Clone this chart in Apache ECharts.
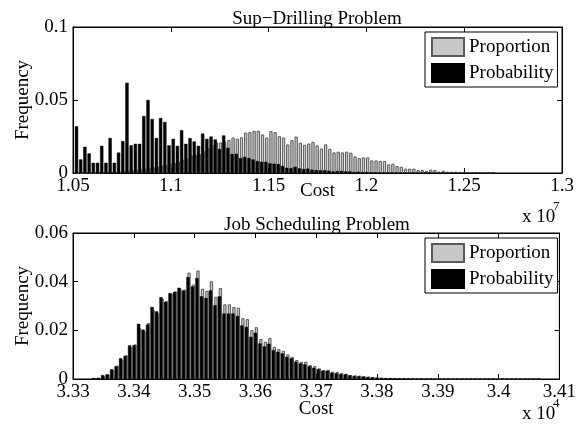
<!DOCTYPE html>
<html><head><meta charset="utf-8">
<script src="https://cdn.jsdelivr.net/npm/echarts@6/dist/echarts.min.js"></script>
<style>html,body{margin:0;padding:0;background:#fff}#c{width:579px;height:433px}</style>
</head><body><div id="c"></div><script>
// ---------- data ----------
const seriesNames = ['Proportion', 'Probability'];
const topTitle = 'Sup\u2212Drilling Problem';
const botTitle = 'Job Scheduling Problem';
const xAxisName = 'Cost';
const yAxisName = 'Frequency';
const topXTicks = [1.05, 1.1, 1.15, 1.2, 1.25, 1.3];
const topYTicks = [0, 0.05, 0.1];
const botXTicks = [3.33, 3.34, 3.35, 3.36, 3.37, 3.38, 3.39, 3.4, 3.41];
const botYTicks = [0, 0.02, 0.04, 0.06];
const topExponent = '7';
const botExponent = '4';

// histogram bins (first bin centre and bin width, in axis units)
const topBinStart = 1.05204, topBinWidth = 0.00215;
const botBinStart = 3.33348, botBinWidth = 0.000739;

const topProportion = [
 0, 0, 0.0001, 0.0002, 0.0002, 0.0003, 0.0004, 0.0005, 0.0006, 0.0008,
 0.001, 0.0012, 0.0015, 0.0018, 0.0022, 0.0026, 0.003, 0.0036, 0.004, 0.0045,
 0.005, 0.0056, 0.0062, 0.007, 0.0078, 0.0093, 0.010, 0.012, 0.0125, 0.013,
 0.015, 0.017, 0.019, 0.021, 0.0209, 0.0215, 0.0227, 0.0243, 0.0234, 0.0245,
 0.0277, 0.028, 0.0289, 0.0289, 0.0264, 0.0243, 0.0287, 0.028, 0.0252, 0.0243,
 0.0196, 0.0225, 0.025, 0.0207, 0.0193, 0.0202, 0.0214, 0.0189, 0.0168, 0.0196,
 0.0166, 0.0141, 0.0146, 0.0141, 0.0146, 0.0139, 0.0114, 0.0102, 0.0107, 0.0107,
 0.0086, 0.0086, 0.0082, 0.0082, 0.0059, 0.0064, 0.0048, 0.0043, 0.003, 0.003,
 0.003, 0.002, 0.002, 0.0014, 0.0023, 0.002, 0.0009, 0.0016, 0.0009, 0.0009,
 0.0009, 0.0007, 0.0007, 0.0005, 0.0004, 0.0005, 0.0003, 0.0004, 0.0003, 0.0004
];
const topProbability = [
 0.032, 0.0093, 0.018, 0.0134, 0.007, 0.007, 0.0186, 0.007, 0.024, 0.007,
 0.014, 0.0218, 0.0618, 0.019, 0.020, 0.020, 0.039, 0.050, 0.037, 0.024,
 0.0377, 0.035, 0.019, 0.0234, 0.0186, 0.0293, 0.020, 0.0239, 0.0216, 0.0186,
 0.027, 0.0234, 0.025, 0.023, 0.0165, 0.0257, 0.0173, 0.013, 0.0132, 0.0102,
 0.011, 0.0102, 0.0093, 0.0082, 0.0077, 0.0077, 0.0066, 0.0064, 0.0061, 0.0048,
 0.0036, 0.0034, 0.0043, 0.0032, 0.0027, 0.003, 0.0023, 0.002, 0.0018, 0.0018,
 0.0016, 0.0011, 0.0014, 0.0014, 0.0011, 0.0011, 0.0007, 0.0009, 0.0007, 0.0007,
 0.0005, 0.0005, 0.0004, 0.0004, 0.0003, 0.0004, 0.0003, 0.0002, 0.0003, 0.0002,
 0.0002, 0.0002, 0.0001, 0.0002, 0.0001, 0.0001, 0.0001, 0.0001, 0.0001, 0.0001,
 0.0001, 0, 0.0001, 0, 0, 0.0001, 0, 0, 0, 0
];
const botProportion = [
 0.0003, 0.0005, 0.0013, 0.0018, 0.0036, 0.0055, 0.0078, 0.0098, 0.013, 0.0142,
 0.021, 0.0195, 0.023, 0.0285, 0.027, 0.033, 0.032, 0.035, 0.036, 0.037,
 0.0368, 0.0437, 0.0388, 0.0446, 0.0371, 0.0363, 0.0402, 0.0338, 0.0374, 0.0307,
 0.0307, 0.0296, 0.0293, 0.025, 0.0246, 0.0201, 0.0213, 0.0164, 0.0153, 0.0169,
 0.0132, 0.0123, 0.0116, 0.0101, 0.0091, 0.0078, 0.0071, 0.0071, 0.0057, 0.0053,
 0.0044, 0.0037, 0.0038, 0.003, 0.0029, 0.0025, 0.0022, 0.0016, 0.0015, 0.0014,
 0.0011, 0.001, 0.0007, 0.0006, 0.0005, 0.0004, 0.0004, 0.0003, 0.0003, 0.0003,
 0.0003, 0.0002, 0.0002, 0.0002, 0.0002, 0.0002, 0.0001, 0.0002, 0.0001, 0.0001,
 0.0001, 0.0001, 0.0001, 0.0001, 0.0001, 0.0001, 0.0001, 0.0001, 0.0001, 0.0001,
 0.0001, 0.0001, 0.0001, 0.0001, 0.0001, 0.0001, 0.0001, 0.0001, 0.0001, 0.0001
];
const botProbability = [
 0.0004, 0.0005, 0.0016, 0.0019, 0.004, 0.0052, 0.0085, 0.0094, 0.0138, 0.0139,
 0.0227, 0.0203, 0.0224, 0.0296, 0.0278, 0.0336, 0.0317, 0.0353, 0.0357, 0.0375,
 0.0363, 0.0419, 0.038, 0.0415, 0.034, 0.0333, 0.0364, 0.0303, 0.034, 0.0269,
 0.0269, 0.0269, 0.0259, 0.022, 0.0214, 0.0173, 0.019, 0.0146, 0.0134, 0.0145,
 0.0119, 0.0112, 0.0105, 0.0091, 0.0085, 0.0071, 0.0064, 0.006, 0.0053, 0.0046,
 0.004, 0.0034, 0.0034, 0.0026, 0.0023, 0.002, 0.0019, 0.0015, 0.0012, 0.0011,
 0.001, 0.0008, 0.0007, 0.0006, 0.0005, 0.0004, 0.0004, 0.0003, 0.0003, 0.0003,
 0.0002, 0.0002, 0.0002, 0.0002, 0.0001, 0.0002, 0.0001, 0.0001, 0.0001, 0.0001,
 0.0001, 0.0001, 0.0001, 0, 0.0001, 0.0001, 0, 0.0001, 0, 0.0001,
 0, 0.0001, 0, 0, 0.0001, 0, 0, 0, 0, 0.0001
];

// ---------- chart ----------
const FONT = '"Liberation Serif", "Times New Roman", serif';
const FS = 19;
const pairs = (vals, start, w) => vals.map((v, i) => [start + i * w, v]);

const grids = [
  { left: 73, top: 27, width: 489, height: 146 },
  { left: 73, top: 233, width: 489, height: 146 }
];

function xAxes(gi, ticks, nameGap) {
  const min = ticks[0], max = ticks[ticks.length - 1], interval = +(ticks[1] - ticks[0]).toFixed(6);
  const base = {
    gridIndex: gi, type: 'value', min: min, max: max, interval: interval,
    axisLine: { show: true, onZero: false, lineStyle: { color: '#000', width: 1 } },
    axisTick: { show: true, inside: true, length: 5, lineStyle: { color: '#000' } },
    splitLine: { show: false }
  };
  return [
    Object.assign({}, base, {
      position: 'bottom',
      axisLabel: { color: '#000', fontFamily: FONT, fontSize: FS, margin: 4 },
      name: xAxisName, nameLocation: 'middle', nameGap: nameGap, nameMoveOverlap: false,
      nameTextStyle: { color: '#000', fontFamily: FONT, fontSize: FS }
    }),
    Object.assign({}, base, { position: 'top', axisLabel: { show: false } })
  ];
}
function yAxes(gi, ticks) {
  const min = ticks[0], max = ticks[ticks.length - 1], interval = +(ticks[1] - ticks[0]).toFixed(6);
  const base = {
    gridIndex: gi, type: 'value', min: min, max: max, interval: interval,
    axisLine: { show: true, onZero: false, lineStyle: { color: '#000', width: 1 } },
    axisTick: { show: true, inside: true, length: 5, lineStyle: { color: '#000' } },
    splitLine: { show: false }
  };
  return [
    Object.assign({}, base, {
      position: 'left',
      axisLabel: { color: '#000', fontFamily: FONT, fontSize: FS, margin: 5 },
      name: yAxisName, nameLocation: 'middle', nameGap: 40, nameRotate: 90, nameMoveOverlap: false,
      nameTextStyle: { color: '#000', fontFamily: FONT, fontSize: FS }
    }),
    Object.assign({}, base, { position: 'right', axisLabel: { show: false } })
  ];
}

const grayStyle = { color: '#c8c8c8', borderColor: '#5a5a5a', borderWidth: 1 };
const blackStyle = { color: '#000000', borderColor: '#000000', borderWidth: 0.5 };

function barSeries(name, xi, yi, data, style, z) {
  return {
    name: name, type: 'bar', xAxisIndex: xi, yAxisIndex: yi, data: data,
    barWidth: 3.3, barGap: '-70%', itemStyle: style, z: z, clip: true,
    emphasis: { disabled: true }, silent: true
  };
}

function legend(top) {
  return {
    data: seriesNames, orient: 'vertical', left: 425, top: top,
    itemWidth: 32, itemHeight: 18, itemGap: 6, padding: [5, 4, 4, 6],
    borderColor: '#000', borderWidth: 1, backgroundColor: '#fff',
    icon: 'rect', selectedMode: false,
    textStyle: { color: '#000', fontFamily: FONT, fontSize: FS, lineHeight: 18 }
  };
}

function txt(text, x, y, align, size) {
  return {
    type: 'text', x: x, y: y, silent: true,
    style: { text: text, textAlign: align, textVerticalAlign: 'middle',
             font: size + 'px ' + FONT, fill: '#000' }
  };
}

const option = {
  animation: false,
  backgroundColor: '#fff',
  grid: grids.map(g => Object.assign({ show: true, borderColor: '#000', borderWidth: 1, backgroundColor: 'transparent' }, g)),
  xAxis: [].concat(xAxes(0, topXTicks, 9), xAxes(1, botXTicks, 21)),
  yAxis: [].concat(yAxes(0, topYTicks), yAxes(1, botYTicks)),
  legend: [legend(32), legend(238)],
  series: [
    barSeries(seriesNames[1], 0, 0, pairs(topProbability, topBinStart, topBinWidth), blackStyle, 3),
    barSeries(seriesNames[0], 0, 0, pairs(topProportion, topBinStart, topBinWidth), grayStyle, 2),
    barSeries(seriesNames[1], 2, 2, pairs(botProbability, botBinStart, botBinWidth), blackStyle, 3),
    barSeries(seriesNames[0], 2, 2, pairs(botProportion, botBinStart, botBinWidth), grayStyle, 2)
  ],
  graphic: [
    txt(topTitle, 317, 19.5, 'center', FS),
    txt(botTitle, 317, 225.5, 'center', FS),
    txt('x 10', 522, 217.5, 'left', FS),
    txt(topExponent, 553, 207, 'left', 13),
    txt('x 10', 522, 414.5, 'left', FS),
    txt(botExponent, 553, 404, 'left', 13)
  ]
};

const chart = echarts.init(document.getElementById('c'), null, { renderer: 'canvas' });
chart.setOption(option);
</script></body></html>
